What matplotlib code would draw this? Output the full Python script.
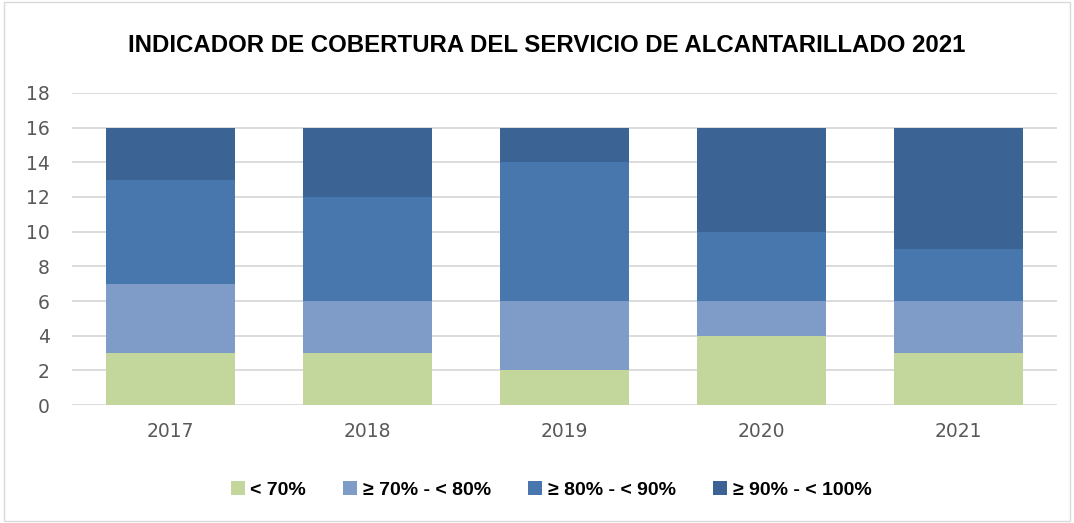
import matplotlib
matplotlib.use("Agg")
import matplotlib.pyplot as plt
import numpy as np

years = ["2017", "2018", "2019", "2020", "2021"]
series_names = ["< 70%", "≥ 70% - < 80%", "≥ 80% - < 90%", "≥ 90% - < 100%"]
lt70 = [3, 3, 2, 4, 3]
r70_80 = [4, 3, 4, 2, 3]
r80_90 = [6, 6, 8, 4, 3]
r90_100 = [3, 4, 2, 6, 7]
colors = ["#C3D69B", "#7F9CC8", "#4877AE", "#3B6394"]

plt.rcParams['font.family'] = ['DejaVu Sans']

fig = plt.figure(figsize=(10.74, 5.23), dpi=100)
ax = fig.add_axes([0.067, 0.2256, 0.917, 0.5966])

x = np.arange(len(years))
bottom = np.zeros(len(years))
for vals, name, c in zip([lt70, r70_80, r80_90, r90_100], series_names, colors):
    ax.bar(x, vals, width=0.655, bottom=bottom, color=c, label=name, zorder=3)
    bottom += np.array(vals)

ax.set_xlim(-0.5, 4.5)
ax.set_ylim(0, 18)
ax.set_yticks(range(0, 19, 2))
ax.set_xticks(x)
ax.set_xticklabels(years)
ax.grid(axis='y', color='#D9D9D9', linewidth=1.3, zorder=0)
for s in ax.spines.values():
    s.set_visible(False)
ax.tick_params(axis='both', length=0, colors='#595959', labelsize=13.5)
ax.tick_params(axis='y', pad=16)
ax.tick_params(axis='x', pad=12)

fig.text(0.509, 0.913, "INDICADOR DE COBERTURA DEL SERVICIO DE ALCANTARILLADO 2021",
         ha='center', va='center', fontsize=17.3, fontweight='bold', color='black',
         family=['Liberation Sans', 'DejaVu Sans'])

leg = fig.legend(loc='center', bbox_to_anchor=(0.513, 0.063), ncol=4, frameon=False,
                 prop={'weight': 'bold', 'size': 14, 'family': ['Liberation Sans', 'DejaVu Sans']},
                 handlelength=0.72, handleheight=0.72,
                 columnspacing=1.9, handletextpad=0.3)
for t in leg.get_texts():
    t.set_color('black')

border = plt.Rectangle((0.004, 0.004), 0.992, 0.992, transform=fig.transFigure,
                       fill=False, edgecolor='#D9D9D9', linewidth=1)
fig.patches.append(border)

fig.savefig("out.png", dpi=100)
